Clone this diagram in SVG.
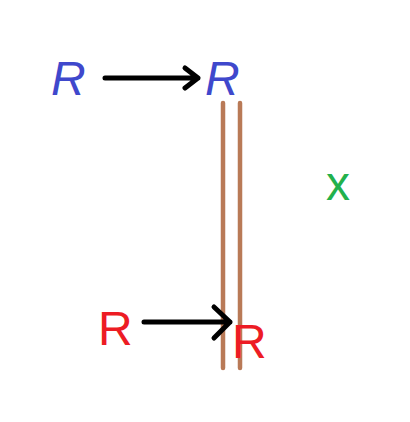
<svg xmlns="http://www.w3.org/2000/svg" width="410" height="422" viewBox="0 0 410 422">
<style>
.t{font-family:"Liberation Sans",Arial,sans-serif;font-size:48px}
.b{fill:#3f48cc}.r{fill:#ed1c24}.g{fill:#22b14c}
.arr{stroke:#000;stroke-width:5;fill:none;stroke-linecap:round;stroke-linejoin:round}
.wall{stroke:#b97a57;stroke-width:4.5;stroke-linecap:round}
</style>
<rect width="410" height="422" fill="#fff"/>
<g id="wall"><line class="wall" x1="223" y1="103" x2="223" y2="368"/><line class="wall" x1="240" y1="103" x2="240" y2="368"/></g>
<g id="r1"><text class="t b" x="51" y="95" font-style="italic">R</text></g>
<g id="r2"><text class="t b" x="205" y="95" font-style="italic">R</text></g>
<g id="r3"><text class="t r" x="98" y="345">R</text></g>
<g id="r4"><text class="t r" x="232" y="358" font-size="40">R</text></g>
<g id="x"><text class="t g" x="326" y="200" font-size="54">x</text></g>
<g id="connectors">
<path class="arr" d="M105 78H198M185 68L198 78L185 88"/>
<path class="arr" d="M144 322H230M214 307L230 322L214 338"/>
</g>
</svg>
